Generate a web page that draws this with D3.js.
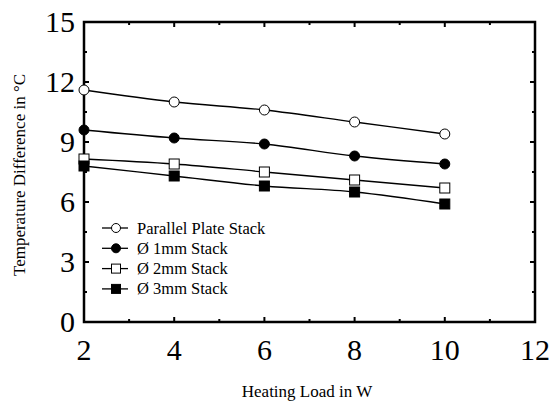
<!DOCTYPE html>
<html>
<head>
<meta charset="utf-8">
<script src="https://cdn.jsdelivr.net/npm/d3@7"></script>
<style>
  body { margin: 0; background: #fff; }
  svg text { font-family: "Times New Roman", "Liberation Serif", Times, "DejaVu Serif", serif; }
</style>
</head>
<body>
<svg id="chart" width="551" height="402"></svg>
<script>
const loads = [2, 4, 6, 8, 10];
const parallelPlate = [11.6, 11.0, 10.6, 10.0, 9.4];
const stack1mm = [9.6, 9.2, 8.9, 8.3, 7.9];
const stack2mm = [8.15, 7.9, 7.5, 7.1, 6.7];
const stack3mm = [7.8, 7.3, 6.8, 6.5, 5.9];
const seriesNames = ['Parallel Plate Stack', 'Ø 1mm Stack', 'Ø 2mm Stack', 'Ø 3mm Stack'];
const xTicks = [2, 4, 6, 8, 10, 12];
const yTicks = [0, 3, 6, 9, 12, 15];

const series = [
  { name: seriesNames[0], values: parallelPlate, shape: 'circle', fill: '#fff' },
  { name: seriesNames[1], values: stack1mm, shape: 'circle', fill: '#000' },
  { name: seriesNames[2], values: stack2mm, shape: 'square', fill: '#fff' },
  { name: seriesNames[3], values: stack3mm, shape: 'square', fill: '#000' }
];

const svg = d3.select('#chart');
const margin = { top: 22, right: 16, bottom: 80, left: 84 };
const width = 551 - margin.left - margin.right;
const height = 402 - margin.top - margin.bottom;

const g = svg.append('g').attr('transform', `translate(${margin.left},${margin.top})`);

const x = d3.scaleLinear().domain([2, 12]).range([0, width]);
const y = d3.scaleLinear().domain([0, 15]).range([height, 0]);

const minorX = d3.range(3, 12, 2);
const minorY = d3.range(1.5, 15, 3);

// ticks (inward) on all four sides
function ticks(vals, len, horiz) {
  vals.forEach(v => {
    if (horiz) {
      g.append('line').attr('x1', x(v)).attr('x2', x(v)).attr('y1', height).attr('y2', height - len)
        .attr('stroke', '#000').attr('stroke-width', 2);
      g.append('line').attr('x1', x(v)).attr('x2', x(v)).attr('y1', 0).attr('y2', len)
        .attr('stroke', '#000').attr('stroke-width', 2);
    } else {
      g.append('line').attr('x1', 0).attr('x2', len).attr('y1', y(v)).attr('y2', y(v))
        .attr('stroke', '#000').attr('stroke-width', 2);
      g.append('line').attr('x1', width).attr('x2', width - len).attr('y1', y(v)).attr('y2', y(v))
        .attr('stroke', '#000').attr('stroke-width', 2);
    }
  });
}
ticks(xTicks, 5, true);
ticks(minorX, 3, true);
ticks(yTicks, 5, false);
ticks(minorY, 3, false);

g.append('rect').attr('width', width).attr('height', height)
  .attr('fill', 'none').attr('stroke', '#000').attr('stroke-width', 2.5);

// tick labels
g.selectAll('.xl').data(xTicks).enter().append('text')
  .attr('x', d => x(d)).attr('y', height + 38)
  .attr('text-anchor', 'middle').attr('font-size', 30).text(d => d);
g.selectAll('.yl').data(yTicks).enter().append('text')
  .attr('x', -9).attr('y', d => y(d) + 10)
  .attr('text-anchor', 'end').attr('font-size', 30).text(d => d);

svg.append('text').attr('x', 307).attr('y', 397).attr('text-anchor', 'middle')
  .attr('font-size', 17).text('Heating Load in W');
svg.append('text').attr('transform', 'translate(25,175) rotate(-90)').attr('text-anchor', 'middle')
  .attr('font-size', 17).text('Temperature Difference in °C');

const line = d3.line().x((d, i) => x(loads[i])).y(d => y(d)).curve(d3.curveCatmullRom);

function marker(sel, s, cx, cy, r) {
  if (s.shape === 'circle') {
    sel.append('circle').attr('cx', cx).attr('cy', cy).attr('r', r)
      .attr('fill', s.fill).attr('stroke', '#000').attr('stroke-width', 1);
  } else {
    sel.append('rect').attr('x', cx - r).attr('y', cy - r).attr('width', 2 * r).attr('height', 2 * r)
      .attr('fill', s.fill).attr('stroke', '#000').attr('stroke-width', 1);
  }
}

series.forEach(s => {
  g.append('path').datum(s.values).attr('fill', 'none').attr('stroke', '#000')
    .attr('stroke-width', 1.3).attr('d', line);
  s.values.forEach((v, i) => marker(g, s, x(loads[i]), y(v), 5));
});

// legend
const legend = svg.append('g').attr('transform', 'translate(102,228)');
series.forEach((s, i) => {
  const row = legend.append('g').attr('transform', `translate(0,${i * 20.3})`);
  row.append('line').attr('x1', 0).attr('x2', 26).attr('y1', 0).attr('y2', 0)
    .attr('stroke', '#000').attr('stroke-width', 1.3);
  marker(row, s, 14, 0, 4.5);
  row.append('text').attr('x', 35).attr('y', 5.5).attr('font-size', 16.5).text(s.name);
});
</script>
</body>
</html>
